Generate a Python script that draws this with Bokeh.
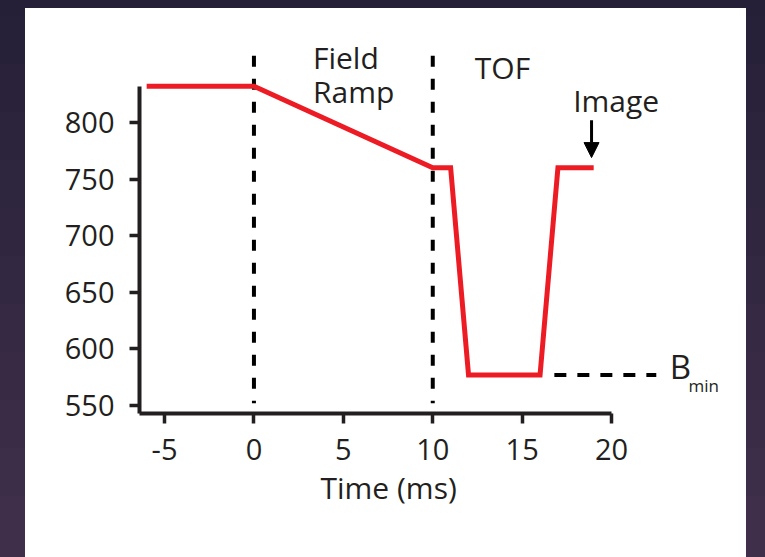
from bokeh.plotting import figure
from bokeh.models import Range1d, FixedTicker, Arrow, NormalHead, ColumnDataSource, Title
from bokeh.core.properties import value
from bokeh.embed import file_html
from bokeh.resources import INLINE

# ---- data ----
time_ms = [-6, 0, 10, 11, 12, 16, 17, 19]
field_g = [832, 832, 760, 760, 577, 577, 760, 760]

x_ticks = [-5, 0, 5, 10, 15, 20]
x_tick_labels = {-5: "-5", 0: "0", 5: "5", 10: "10", 15: "15", 20: "20"}
y_ticks = [550, 600, 650, 700, 750, 800]

phase_x = [0, 10]
phase_top = [859, 859]
phase_bottom = [552, 552]

bmin_x = [16.8, 22.5]
bmin_y = [577, 577]

label_text = ["Field", "Ramp", "TOF", "Image"]
label_x = [3.3, 3.3, 12.35, 17.85]
label_y = [857.5, 827.5, 848.5, 819.5]

image_arrow_x = 18.88
image_arrow_y = [802, 769]

FONT = "Open Sans"
INK = "#231f20"
RED = "#ed1c24"

# slide background: dark purple, lighter towards the bottom (stepped shadows)
top_rgb = (0x24, 0x1e, 0x37)
bot_rgb = (0x3f, 0x2f, 0x4a)
shadows = []
for k in range(11, -1, -1):
    t = min(1.0, (k * 48 + 24) / 557)
    c = tuple(round(a + (b - a) * t) for a, b in zip(top_rgb, bot_rgb))
    shadows.append("0 %dpx 0 40px #%02x%02x%02x" % (k * 48, *c))

# inner white panel: window x 25..746, y 8..557
p = figure(width=721, height=549, output_backend="svg", toolbar_location=None,
           x_range=Range1d(-6.40, 27.21), y_range=Range1d(542.9, 881.3),
           min_border_left=114, min_border_right=6, min_border_top=22, min_border_bottom=144)
p.styles = {"margin-left": "25px", "margin-top": "8px",
            "box-shadow": ", ".join(shadows)}
p.outline_line_color = None
p.grid.visible = False
p.background_fill_color = "white"
p.border_fill_color = "white"

for ax in (p.xaxis[0], p.yaxis[0]):
    ax.axis_line_width = 4
    ax.axis_line_color = INK
    ax.major_tick_line_width = 3.5
    ax.major_tick_line_color = INK
    ax.major_tick_out = 10
    ax.major_tick_in = 0
    ax.minor_tick_line_color = None
    ax.major_label_text_font = FONT
    ax.major_label_text_font_size = "29px"
    ax.major_label_text_color = INK

p.xaxis.ticker = FixedTicker(ticks=x_ticks)
p.xaxis.major_label_overrides = x_tick_labels
p.yaxis.ticker = FixedTicker(ticks=y_ticks)
p.xaxis.bounds = (-6.40, 20.0)
p.yaxis.bounds = (542.9, 831.8)
p.xaxis.major_label_standoff = 15
p.yaxis.major_label_standoff = 15

p.add_layout(Title(text="Time (ms)", align="left", offset=181, standoff=5,
                   text_font=FONT, text_font_size="30px", text_font_style="normal",
                   text_color=INK), "below")

# phase separators
p.segment(x0=phase_x, y0=phase_top, x1=phase_x, y1=phase_bottom,
          line_color="black", line_width=4, line_dash="11 12")

# B_min reference
p.line(bmin_x, bmin_y, line_color="black", line_width=4, line_dash="12 11")

# field sequence
p.line(time_ms, field_g, line_color=RED, line_width=5, line_join="miter")

# annotations
src = ColumnDataSource(dict(x=label_x, y=label_y, t=label_text))
p.text(x="x", y="y", text="t", source=src, text_font=value(FONT), text_font_size="30px",
       text_color=INK, text_align="left", text_baseline="alphabetic")
p.text(x=[23.25], y=[584], text=["B"], text_font=value(FONT), text_font_size="33px",
       text_color=INK, text_align="left", text_baseline="alphabetic")
p.text(x=[24.3], y=[567.7], text=["min"], text_font=value(FONT), text_font_size="17px",
       text_color=INK, text_align="left", text_baseline="alphabetic")

p.add_layout(Arrow(end=NormalHead(size=15, fill_color="black", line_color="black"),
                   x_start=image_arrow_x, y_start=image_arrow_y[0],
                   x_end=image_arrow_x, y_end=image_arrow_y[1],
                   line_color="black", line_width=3))

open("out.html", "w").write(file_html(p, INLINE))
